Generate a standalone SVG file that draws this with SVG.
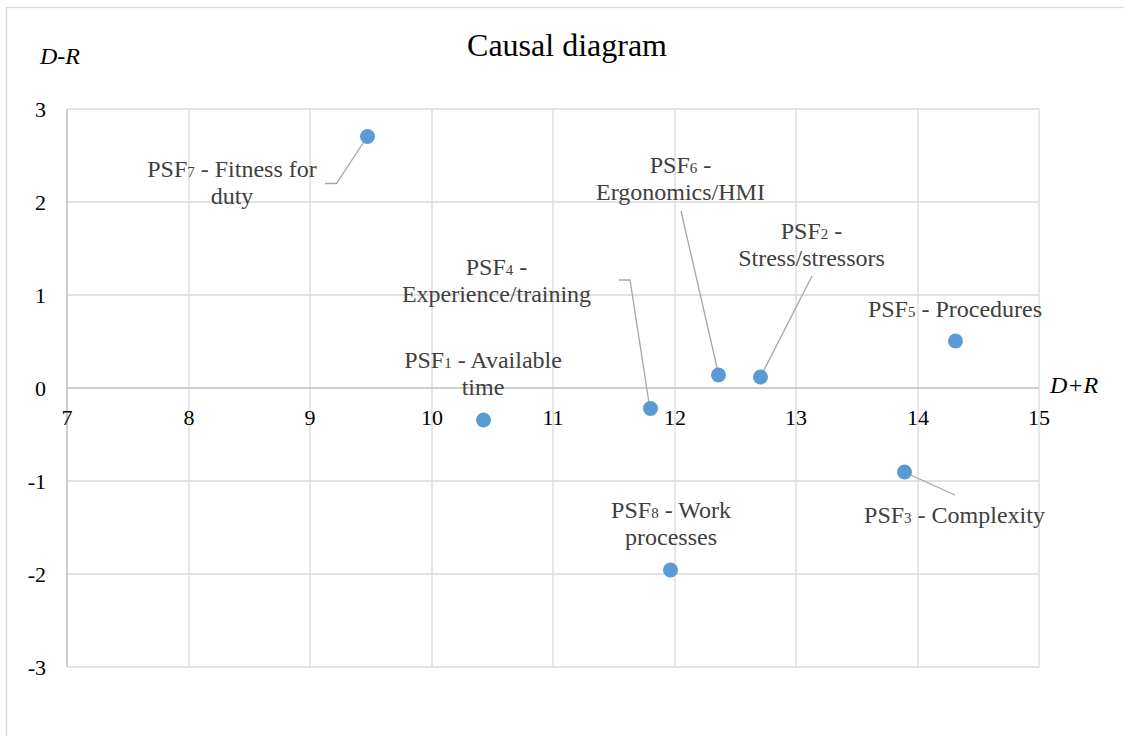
<svg xmlns="http://www.w3.org/2000/svg" width="1124" height="736" viewBox="0 0 1124 736">
<style>
.grid{stroke:#d9d9d9;stroke-width:1.3;fill:none}
.axis{stroke:#bfbfbf;stroke-width:1.5;fill:none}
.tick{font-family:"Liberation Serif","Times New Roman",serif;font-size:22px;fill:#000}
.ytick{text-anchor:end}
.xtick{text-anchor:middle}
.lbl{font-family:"Liberation Serif","Times New Roman",serif;font-size:24px;fill:#404040;text-anchor:middle}
.sub{font-size:15px}
.ttl{font-family:"Liberation Serif","Times New Roman",serif;font-size:32px;fill:#000;text-anchor:middle}
.ax{font-family:"Liberation Serif","Times New Roman",serif;font-size:24px;font-style:italic;fill:#000}
.pt{fill:#5b9bd5}
.lead{stroke:#a6a6a6;stroke-width:1.3;fill:none}
</style>
<rect x="0" y="0" width="1124" height="736" fill="#fff"/>
<rect x="6.5" y="7.5" width="1200" height="800" fill="none" stroke="#d9d9d9" stroke-width="1.3"/>
<g id="grid">
<path class="grid" d="M189 109V667M310 109V667M432 109V667M553 109V667M675 109V667M796 109V667M918 109V667M1039 109V667"/>
<path class="grid" d="M67 109H1039M67 202H1039M67 295H1039M67 481H1039M67 574H1039M67 667H1039"/>
<path class="axis" d="M67 109V667M67 388H1039"/>
</g>
<g id="title"><text class="ttl" x="567" y="56">Causal diagram</text></g>
<g id="axis-labels">
<text class="ax" x="40" y="64">D-R</text>
<text class="ax" x="1050" y="393">D+R</text>
</g>
<g id="y-ticks">
<text class="tick ytick" x="46" y="117">3</text>
<text class="tick ytick" x="46" y="210">2</text>
<text class="tick ytick" x="46" y="303">1</text>
<text class="tick ytick" x="46" y="396">0</text>
<text class="tick ytick" x="46" y="489">-1</text>
<text class="tick ytick" x="46" y="582">-2</text>
<text class="tick ytick" x="46" y="675">-3</text>
</g>
<g id="x-ticks">
<text class="tick xtick" x="67" y="425">7</text>
<text class="tick xtick" x="189" y="425">8</text>
<text class="tick xtick" x="310" y="425">9</text>
<text class="tick xtick" x="432" y="425">10</text>
<text class="tick xtick" x="553" y="425">11</text>
<text class="tick xtick" x="675" y="425">12</text>
<text class="tick xtick" x="796" y="425">13</text>
<text class="tick xtick" x="918" y="425">14</text>
<text class="tick xtick" x="1039" y="425">15</text>
</g>
<g id="connectors">
<path class="lead" d="M367 137L336.5 183.5H325"/>
<path class="lead" d="M619 280H630L649.5 406"/>
<path class="lead" d="M681 211L718.5 374"/>
<path class="lead" d="M812 276L761 376"/>
<path class="lead" d="M905 472.5L955 495"/>
</g>
<g id="psf7"><circle class="pt" cx="367.5" cy="136.5" r="7.5"/>
<text class="lbl" x="232" y="177">PSF<tspan class="sub">7</tspan> - Fitness for</text>
<text class="lbl" x="232" y="204">duty</text></g>
<g id="psf1"><circle class="pt" cx="483.5" cy="420" r="7.5"/>
<text class="lbl" x="483" y="368">PSF<tspan class="sub">1</tspan> - Available</text>
<text class="lbl" x="483" y="395">time</text></g>
<g id="psf4"><circle class="pt" cx="650.5" cy="408.5" r="7.5"/>
<text class="lbl" x="496.5" y="275">PSF<tspan class="sub">4</tspan> -</text>
<text class="lbl" x="496.5" y="302">Experience/training</text></g>
<g id="psf6"><circle class="pt" cx="718.5" cy="375" r="7.5"/>
<text class="lbl" x="680.5" y="173">PSF<tspan class="sub">6</tspan> -</text>
<text class="lbl" x="680.5" y="200">Ergonomics/HMI</text></g>
<g id="psf2"><circle class="pt" cx="760.5" cy="377" r="7.5"/>
<text class="lbl" x="811.5" y="239">PSF<tspan class="sub">2</tspan> -</text>
<text class="lbl" x="811.5" y="266">Stress/stressors</text></g>
<g id="psf5"><circle class="pt" cx="955.5" cy="341" r="7.5"/>
<text class="lbl" x="955" y="317">PSF<tspan class="sub">5</tspan> - Procedures</text></g>
<g id="psf3"><circle class="pt" cx="904.5" cy="472" r="7.5"/>
<text class="lbl" x="954.5" y="523">PSF<tspan class="sub">3</tspan> - Complexity</text></g>
<g id="psf8"><circle class="pt" cx="670.5" cy="570" r="7.5"/>
<text class="lbl" x="671" y="518">PSF<tspan class="sub">8</tspan> - Work</text>
<text class="lbl" x="671" y="545">processes</text></g>
</svg>
